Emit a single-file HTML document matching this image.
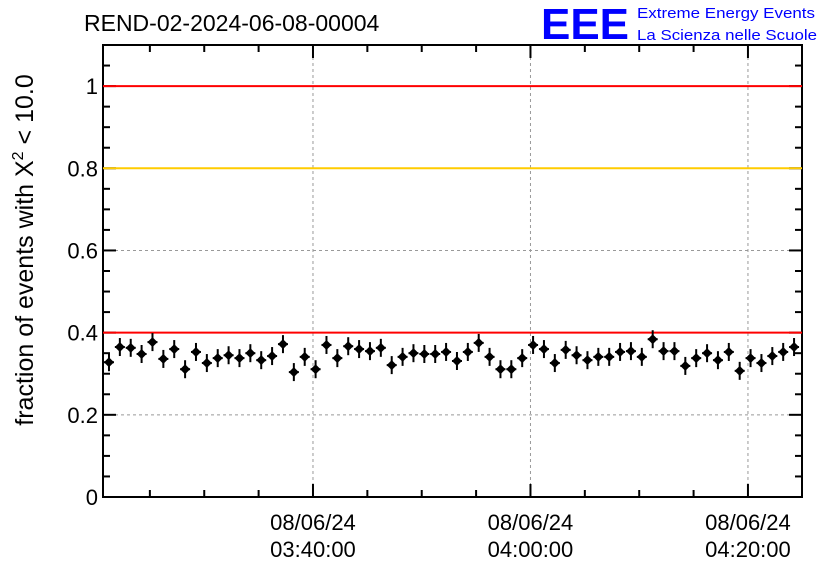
<!DOCTYPE html>
<html><head><meta charset="utf-8"><style>
body{margin:0;background:#fff;}
svg{display:block;font-family:"Liberation Sans",sans-serif;}
</style></head><body>
<svg id="chart" width="836" height="572">
<rect x="0" y="0" width="836" height="572" fill="#fff"/>
<text x="84" y="31" font-size="23" fill="#000">REND-02-2024-06-08-00004</text>
<g>
<text x="541" y="39" font-size="44" font-weight="bold" fill="#0000ff" textLength="88" lengthAdjust="spacingAndGlyphs">EEE</text>
<text x="637" y="18" font-size="15" fill="#0000ff" textLength="178" lengthAdjust="spacingAndGlyphs">Extreme Energy Events</text>
<text x="637" y="40" font-size="15" fill="#0000ff" textLength="180" lengthAdjust="spacingAndGlyphs">La Scienza nelle Scuole</text>
</g>
<text transform="translate(33,250) rotate(-90)" text-anchor="middle" font-size="25" fill="#000">fraction of events with X<tspan dy="-10" font-size="16">2</tspan><tspan dy="10"> &lt; 10.0</tspan></text>
<g id="grid"></g><g id="axes"></g><g id="marks"></g>
</svg>
<script>
const values=[0.328,0.365,0.363,0.348,0.377,0.336,0.360,0.311,0.353,0.326,0.338,0.345,0.338,0.350,0.333,0.343,0.372,0.304,0.341,0.311,0.370,0.338,0.367,0.360,0.355,0.363,0.321,0.341,0.350,0.348,0.348,0.353,0.331,0.353,0.375,0.341,0.311,0.311,0.338,0.370,0.360,0.326,0.358,0.345,0.333,0.341,0.341,0.353,0.355,0.341,0.384,0.355,0.355,0.319,0.338,0.350,0.333,0.353,0.307,0.338,0.326,0.343,0.353,0.365];
const yTicks=[0,0.2,0.4,0.6,0.8,1];
const yTickLabels=["0","0.2","0.4","0.6","0.8","1"];
const xTickMinutes=[20,40,60];
const xTickDates=["08/06/24","08/06/24","08/06/24"];
const xTickTimes=["03:40:00","04:00:00","04:20:00"];
const refLines=[0.4,0.8,1.0];
const refColors=["#ff0000","#ffcc00","#ff0000"];
const firstMinute=1.24, stepMinute=1.0; // minutes after 03:20
const NS="http://www.w3.org/2000/svg";
const L=103,R=802,T=45,B=497;
const xMin=0.69, xMax=64.97, yMax=1.1;
const X=m=>L+(m-xMin)/(xMax-xMin)*(R-L);
const Y=v=>B-v/yMax*(B-T);
function mk(tag,attrs,parent){const e=document.createElementNS(NS,tag);for(const k in attrs)e.setAttribute(k,attrs[k]);parent.appendChild(e);return e;}
const grid=document.getElementById('grid'),axes=document.getElementById('axes'),marks=document.getElementById('marks');
yTicks.forEach((v,i)=>{
 if(v>0&&v<1){const g=mk('line',{x1:L,x2:R,y1:Y(v),y2:Y(v),stroke:'#999','stroke-dasharray':'3,3','stroke-width':1},grid);
 
 }
 mk('line',{x1:L,x2:L+13,y1:Y(v),y2:Y(v),stroke:'#000','stroke-width':2},axes);
 mk('line',{x1:R-13,x2:R,y1:Y(v),y2:Y(v),stroke:'#000','stroke-width':2},axes);
 const lb=mk('text',{x:L-5,y:Y(v)+8,'text-anchor':'end','font-size':22},axes);lb.textContent=yTickLabels[i];
 
 
});
for(let k=1;k<22;k++){if(k%4===0)continue;const v=k*0.05;
 mk('line',{x1:L,x2:L+7,y1:Y(v),y2:Y(v),stroke:'#000','stroke-width':2},axes);
 mk('line',{x1:R-7,x2:R,y1:Y(v),y2:Y(v),stroke:'#000','stroke-width':2},axes);}
xTickMinutes.forEach((m,i)=>{
 const g=mk('line',{x1:X(m),x2:X(m),y1:T,y2:B,stroke:'#999','stroke-dasharray':'3,3','stroke-width':1},grid);
 
 
 const a=mk('text',{x:X(m),y:530,'text-anchor':'middle','font-size':22},axes);a.textContent=xTickDates[i];
 
 
 const b=mk('text',{x:X(m),y:557,'text-anchor':'middle','font-size':22},axes);b.textContent=xTickTimes[i];
 
 
});
for(let m=5;m<xMax;m+=5){const big=m%20===0;
 mk('line',{x1:X(m),x2:X(m),y1:B-(big?13:7),y2:B,stroke:'#000','stroke-width':2},axes);
 mk('line',{x1:X(m),x2:X(m),y1:T,y2:T+(big?13:7),stroke:'#000','stroke-width':2},axes);}
refLines.forEach((v,i)=>{const l=mk('line',{x1:L,x2:R,y1:Y(v),y2:Y(v),stroke:refColors[i],'stroke-width':2},marks);
 
 });
mk('rect',{x:L,y:T,width:R-L,height:B-T,fill:'none',stroke:'#000','stroke-width':2},axes);
values.forEach((v,i)=>{const cx=X(firstMinute+i*stepMinute),cy=Y(v);
 const g=mk('g',{},marks);
 
 
 mk('line',{x1:cx,x2:cx,y1:cy-9,y2:cy+9,stroke:'#000','stroke-width':2},g);
 mk('line',{x1:cx-5,x2:cx+5,y1:cy,y2:cy,stroke:'#000','stroke-width':2},g);
 mk('path',{d:`M${cx-5},${cy}L${cx},${cy-5}L${cx+5},${cy}L${cx},${cy+5}Z`,fill:'#000'},g);
});
</script>
</body></html>
